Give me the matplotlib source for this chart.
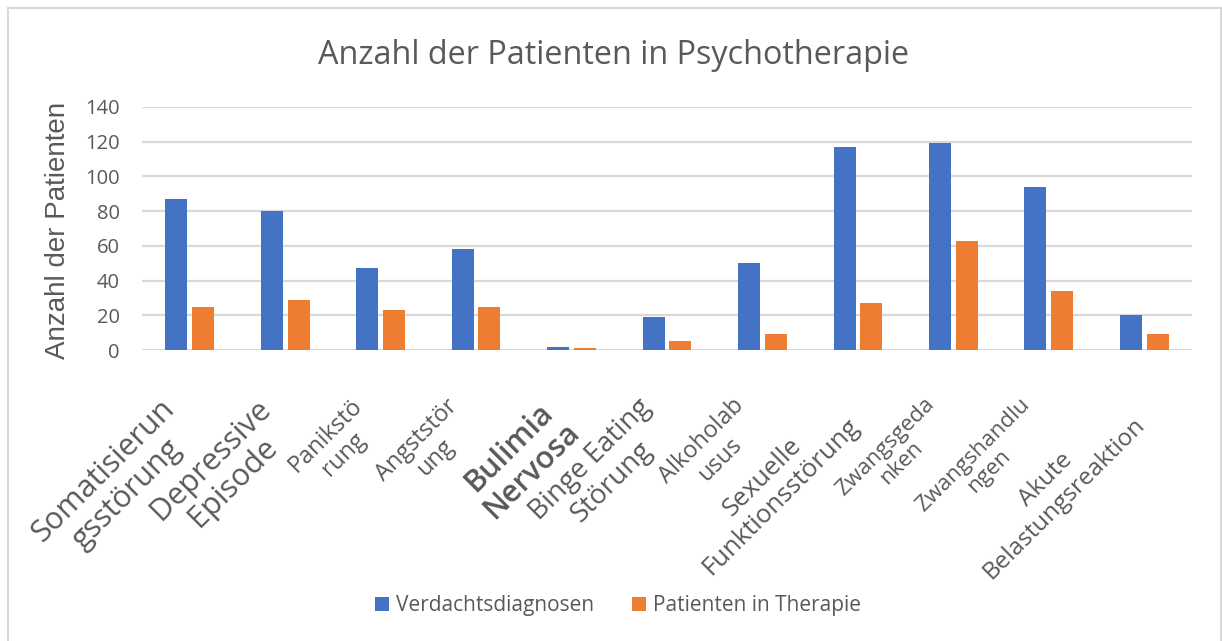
import matplotlib
matplotlib.use("Agg")
import matplotlib.pyplot as plt
import matplotlib.transforms as mtransforms
import numpy as np

# Daten
kategorien = ["Somatisierun\ngsstörung", "Depressive\nEpisode", "Panikstö\nrung",
              "Angststör\nung", "Bulimia\nNervosa", "Binge Eating\nStörung",
              "Alkoholab\nusus", "Sexuelle\nFunktionsstörung", "Zwangsgeda\nnken",
              "Zwangshandlu\nngen", "Akute\nBelastungsreaktion"]
verdachtsdiagnosen = [87, 80, 47, 58, 2, 19, 50, 117, 119, 94, 20]
in_therapie = [25, 29, 23, 25, 1, 5, 9, 27, 63, 34, 9]
y_ticks = [0, 20, 40, 60, 80, 100, 120, 140]

# Schriftgroessen der Achsenbeschriftungen (wie im Original uneinheitlich)
label_sizes = [22, 22, 17, 17, 22, 20, 17, 18.5, 16, 16, 17.5]
label_weights = ["normal"] * 4 + ["semibold"] + ["normal"] * 6

blau = "#4472C4"
orange = "#ED7D31"
grau_text = "#595959"
grau_linie = "#D9D9D9"

plt.rcParams['font.family'] = ['Open Sans', 'DejaVu Sans']

W, H = 1222, 641
fig = plt.figure(figsize=(W / 100, H / 100), dpi=100)
ax = fig.add_axes([142 / W, (H - 350) / H, (1192 - 142) / W, (350 - 107) / H])

x = np.arange(len(kategorien))
breite = 0.23
ax.bar(x - 0.14, verdachtsdiagnosen, breite, color=blau, label="Verdachtsdiagnosen", zorder=3)
ax.bar(x + 0.14, in_therapie, breite, color=orange, label="Patienten in Therapie", zorder=3)

ax.set_xlim(-0.5, len(kategorien) - 0.5)
ax.set_ylim(0, 140)
ax.set_yticks(y_ticks)
ax.yaxis.grid(True, color=grau_linie, linewidth=1.6, zorder=0)
ax.tick_params(axis='y', length=0, pad=16, labelsize=14.5, labelcolor=grau_text)
ax.tick_params(axis='x', length=0)
for s in ax.spines.values():
    s.set_visible(False)

ax.set_xticks(x)
ax.set_xticklabels([])
for i, name in enumerate(kategorien):
    t = ax.text(x[i], 0, name, rotation=45, rotation_mode='anchor', ha='right', va='top',
                multialignment='center', fontsize=label_sizes[i], fontweight=label_weights[i],
                color=grau_text, linespacing=1.1,
                transform=ax.get_xaxis_transform())
    t.set_transform(t.get_transform() + mtransforms.ScaledTranslation(-30 / 100, -44 / 100, fig.dpi_scale_trans))

fig.text(58 / W, 1 - 230 / H, "Anzahl der Patienten", rotation=90, ha='center', va='center',
         fontsize=20, color=grau_text, family=['Liberation Sans'])
fig.text(614 / W, 1 - 55 / H, "Anzahl der Patienten in Psychotherapie", ha='center', va='center',
         fontsize=23.3, color=grau_text)

fig.legend(loc='center', bbox_to_anchor=(618 / W, 1 - 606 / H), ncol=2, frameon=False,
           fontsize=15, labelcolor=grau_text, handlelength=0.67, handleheight=0.67,
           handletextpad=0.34, columnspacing=1.8)

# Rahmen des Diagramms
fig.add_artist(plt.Line2D([8 / W, 8 / W], [0, 1 - 8 / H], color=grau_linie, lw=1.5))
fig.add_artist(plt.Line2D([8 / W, 1221 / W], [1 - 8 / H, 1 - 8 / H], color=grau_linie, lw=1.5))
fig.add_artist(plt.Line2D([1221 / W, 1221 / W], [0, 1 - 8 / H], color=grau_linie, lw=1.5))

fig.savefig("out.png", dpi=100)
